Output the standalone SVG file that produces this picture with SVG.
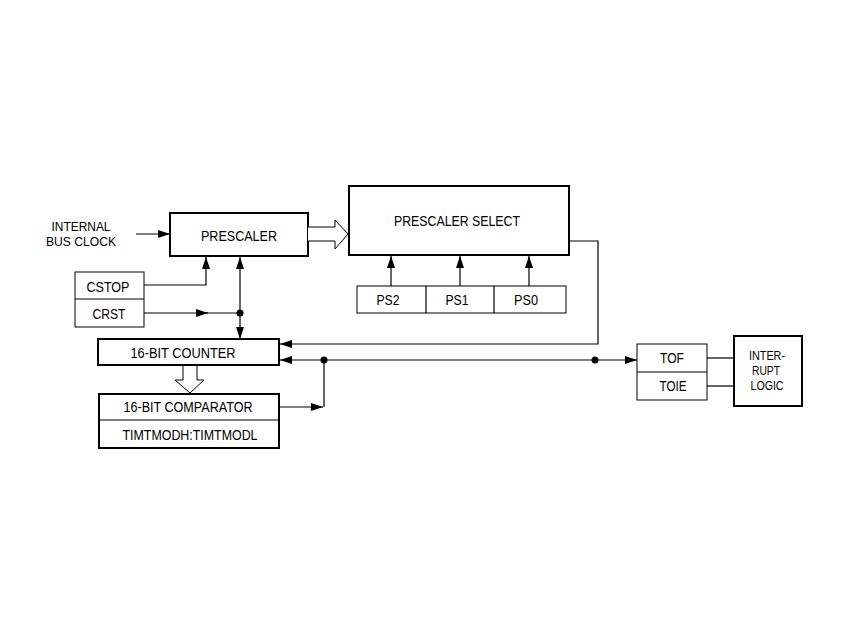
<svg xmlns="http://www.w3.org/2000/svg" width="850" height="638" viewBox="0 0 850 638">
<defs>
<style>
text{font-family:"Liberation Sans",Arial,sans-serif;font-size:14.5px;fill:#000;text-anchor:middle}
.thick{fill:#fff;stroke:#000;stroke-width:2}
.thin{fill:#fff;stroke:#000;stroke-width:1}
.ln{fill:none;stroke:#000;stroke-width:1.2}
.small{font-size:13.5px}
</style>
<marker id="ah" markerUnits="userSpaceOnUse" markerWidth="13" markerHeight="9" refX="12" refY="4" orient="auto-start-reverse">
<path d="M0,0 L12,4 L0,8 z" fill="#000"/>
</marker>
</defs>
<rect width="850" height="638" fill="#fff"/>

<g id="internal-bus-clock">
<text class="small" x="81" y="231" textLength="59" lengthAdjust="spacingAndGlyphs">INTERNAL</text>
<text class="small" x="81" y="246" textLength="70" lengthAdjust="spacingAndGlyphs">BUS CLOCK</text>
</g>

<g id="prescaler">
<rect class="thick" x="170" y="213" width="138" height="43"/>
<text x="239" y="241" textLength="76" lengthAdjust="spacingAndGlyphs">PRESCALER</text>
</g>

<g id="prescaler-select">
<rect class="thick" x="349" y="186" width="220" height="69"/>
<text x="457" y="226" textLength="126" lengthAdjust="spacingAndGlyphs">PRESCALER SELECT</text>
</g>

<g id="ps-bits">
<rect class="thin" x="357" y="286" width="209" height="27"/>
<line class="ln" x1="426" y1="286" x2="426" y2="313"/>
<line class="ln" x1="494" y1="286" x2="494" y2="313"/>
<text x="388" y="305" textLength="23" lengthAdjust="spacingAndGlyphs">PS2</text>
<text x="457" y="305" textLength="23" lengthAdjust="spacingAndGlyphs">PS1</text>
<text x="526" y="305" textLength="24" lengthAdjust="spacingAndGlyphs">PS0</text>
</g>

<g id="cstop-crst">
<rect class="thin" x="75" y="272" width="69" height="55"/>
<line class="ln" x1="75" y1="299" x2="144" y2="299"/>
<text x="108" y="292" textLength="43" lengthAdjust="spacingAndGlyphs">CSTOP</text>
<text x="109" y="319" textLength="33" lengthAdjust="spacingAndGlyphs">CRST</text>
</g>

<g id="counter">
<rect class="thick" x="98" y="339" width="181" height="26"/>
<text x="183" y="358" textLength="105" lengthAdjust="spacingAndGlyphs">16-BIT COUNTER</text>
</g>

<g id="comparator">
<rect class="thick" x="99" y="394" width="180" height="54"/>
<line class="ln" x1="99" y1="420" x2="279" y2="420"/>
<text x="188" y="412" textLength="129" lengthAdjust="spacingAndGlyphs">16-BIT COMPARATOR</text>
<text x="190" y="440" textLength="135" lengthAdjust="spacingAndGlyphs">TIMTMODH:TIMTMODL</text>
</g>

<g id="tof-toie">
<rect class="thin" x="637" y="344" width="70" height="56"/>
<line class="ln" x1="637" y1="372" x2="707" y2="372"/>
<text x="672" y="363" textLength="24" lengthAdjust="spacingAndGlyphs">TOF</text>
<text x="673" y="391" textLength="27" lengthAdjust="spacingAndGlyphs">TOIE</text>
</g>

<g id="interrupt-logic">
<rect class="thick" x="734" y="336" width="68" height="70"/>
<text class="small" x="767" y="360" textLength="36" lengthAdjust="spacingAndGlyphs">INTER-</text>
<text class="small" x="766" y="375" textLength="28" lengthAdjust="spacingAndGlyphs">RUPT</text>
<text class="small" x="767" y="390" textLength="33" lengthAdjust="spacingAndGlyphs">LOGIC</text>
</g>

<g id="connectors">
<line class="ln" x1="136" y1="234" x2="170" y2="234" marker-end="url(#ah)"/>
<path class="thin" d="M308,227 H335 V220 L348,234 L335,249 V241 H308"/>
<polyline class="ln" points="144,285 206,285 206,257" marker-end="url(#ah)"/>
<line class="ln" x1="144" y1="313" x2="208" y2="313" marker-end="url(#ah)"/>
<line class="ln" x1="200" y1="313" x2="240" y2="313"/>
<line class="ln" x1="240" y1="257" x2="240" y2="339" marker-start="url(#ah)" marker-end="url(#ah)"/>
<circle cx="240" cy="313" r="3.5" fill="#000"/>
<line class="ln" x1="391" y1="286" x2="391" y2="256" marker-end="url(#ah)"/>
<line class="ln" x1="460" y1="286" x2="460" y2="256" marker-end="url(#ah)"/>
<line class="ln" x1="529" y1="286" x2="529" y2="256" marker-end="url(#ah)"/>
<polyline class="ln" points="569,241 598,241 598,344 280,344" marker-end="url(#ah)"/>
<line class="ln" x1="280" y1="360" x2="637" y2="360" marker-start="url(#ah)" marker-end="url(#ah)"/>
<circle cx="324" cy="360" r="3.5" fill="#000"/>
<circle cx="595" cy="360" r="3.5" fill="#000"/>
<line class="ln" x1="280" y1="407" x2="323" y2="407" marker-end="url(#ah)"/>
<line class="ln" x1="324" y1="407" x2="324" y2="360"/>
<path class="thin" d="M183,366 V380 H175 L190,393 L204,380 H197 V366"/>
<line class="ln" x1="707" y1="358" x2="734" y2="358"/>
<line class="ln" x1="707" y1="386" x2="734" y2="386"/>
</g>
</svg>
